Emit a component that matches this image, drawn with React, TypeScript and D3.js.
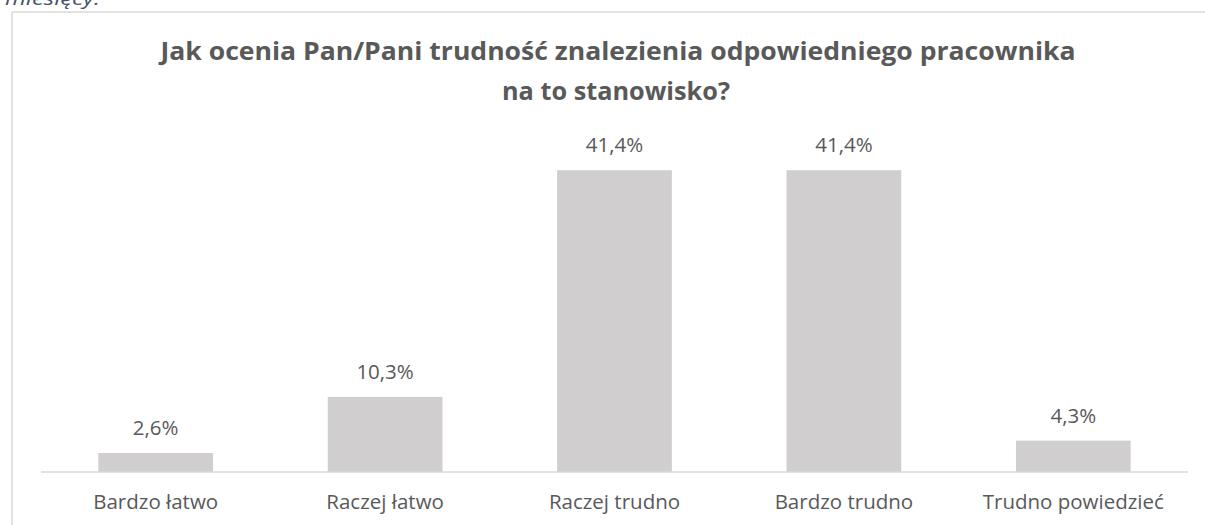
import React from "react";
import * as d3 from "d3";

const categories: string[] = ["Bardzo łatwo", "Raczej łatwo", "Raczej trudno", "Bardzo trudno", "Trudno powiedzieć"];
const values: number[] = [2.6, 10.3, 41.4, 41.4, 4.3];
const titleLines: string[] = ["Jak ocenia Pan/Pani trudność znalezienia odpowiedniego pracownika", "na to stanowisko?"];
const captionText = "miesięcy.";

const W = 1205;
const H = 525;
const FONT = "'Open Sans', 'Noto Sans', sans-serif";
const TEXT = "#595959";

export default function App() {
  const x = d3.scaleBand<string>().domain(categories).range([41, 1188]).paddingInner(0.5).paddingOuter(0.25);
  const y = d3.scaleLinear().domain([0, 45]).range([472, 472 - 45 * 7.29]);
  const fmt = (v: number) => d3.format(".1f")(v).replace(".", ",") + "%";

  return (
    <div style={{ position: "absolute", left: 0, top: 0, width: W, height: H, background: "#fff" }}>
      <svg width={W} height={H} style={{ display: "block" }}>
        <rect x={0} y={0} width={W} height={H} fill="#fff" />
        <text x={5} y={5} fontFamily={FONT} fontStyle="italic" fontSize={18} fill="#44546A"
          textLength={95} lengthAdjust="spacingAndGlyphs">{captionText}</text>
        {/* chart frame */}
        <line x1={12} y1={12} x2={W} y2={12} stroke="#d9d9d9" strokeWidth={1.5} />
        <line x1={12} y1={12} x2={12} y2={H} stroke="#d9d9d9" strokeWidth={1.5} />
        {/* title */}
        <text x={618} y={60} textAnchor="middle" fontFamily={FONT} fontWeight={700} fontSize={24.5} fill={TEXT}
          textLength={915} lengthAdjust="spacingAndGlyphs">{titleLines[0]}</text>
        <text x={616} y={100} textAnchor="middle" fontFamily={FONT} fontWeight={700} fontSize={24.5} fill={TEXT}
          textLength={228} lengthAdjust="spacingAndGlyphs">{titleLines[1]}</text>
        {/* bars */}
        {categories.map((c, i) => (
          <rect key={c} x={x(c)} y={y(values[i])} width={x.bandwidth()} height={y(0) - y(values[i])} fill="#D0CECE" />
        ))}
        {/* axis line */}
        <line x1={41} x2={1188} y1={y(0)} y2={y(0)} stroke="#d9d9d9" strokeWidth={1.5} />
        {/* value labels */}
        {categories.map((c, i) => (
          <text key={c + "v"} x={(x(c) ?? 0) + x.bandwidth() / 2} y={y(values[i]) - 18} textAnchor="middle"
            fontFamily={FONT} fontSize={20.5} fill={TEXT}>{fmt(values[i])}</text>
        ))}
        {/* category labels */}
        {categories.map((c) => (
          <text key={c + "c"} x={(x(c) ?? 0) + x.bandwidth() / 2} y={509} textAnchor="middle"
            fontFamily={FONT} fontSize={20.5} fill={TEXT}>{c}</text>
        ))}
      </svg>
    </div>
  );
}
